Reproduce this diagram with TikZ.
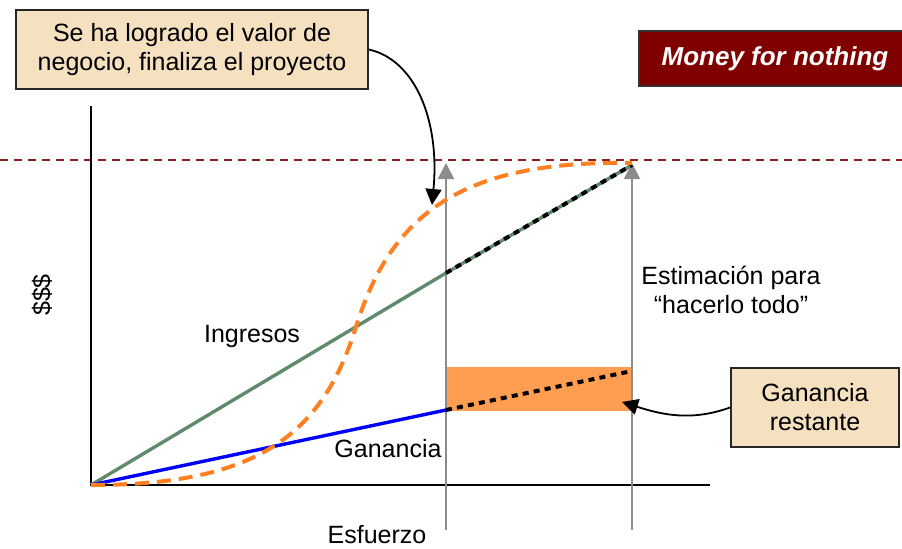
\documentclass[tikz,border=0pt]{standalone}
\usepackage{fontspec}
\setmainfont{Liberation Sans}
\usetikzlibrary{positioning,arrows.meta}

\definecolor{boxfill}{RGB}{245,225,192}
\definecolor{moneyred}{RGB}{128,0,0}
\definecolor{limitred}{RGB}{140,30,30}
\definecolor{ingresosgreen}{RGB}{95,138,108}
\definecolor{curveorange}{RGB}{255,128,32}
\definecolor{restfill}{RGB}{255,158,80}
\definecolor{markgray}{RGB}{140,140,140}

\tikzset{
  note/.style={draw=black!85, line width=1pt, fill=boxfill, align=center, inner sep=0pt},
  label/.style={inner sep=0pt, align=center},
  marker/.style={draw=markgray, line width=1pt, -{Triangle[length=8pt,width=8pt]}},
  pointer/.style={draw=black, line width=0.9pt, -{Triangle[length=8pt,width=8pt]}},
  rest/.style={black, line width=2pt, dash pattern=on 3pt off 2.6pt}
}

\begin{document}
\begin{tikzpicture}[x=0.5pt, y=-0.5pt, font=\fontsize{12.5}{14.5}\selectfont]
\useasboundingbox (0,0) rectangle (902,548);
% Lines
\draw[limitred, line width=0.8pt, dash pattern=on 4pt off 3pt] (0,160) -- (902,160);
\coordinate (o) at (91,485);
\coordinate (ytop) at (91,106);
\coordinate (xend) at (710,485);
\draw[line width=1pt] (ytop) -- (o) -- (xend);
% Remaining profit
\fill[restfill] (446,367) rectangle (632,411);
% Markers
\coordinate (m1b) at (446,530);
\coordinate (m1t) at (446,163);
\coordinate (m2b) at (632,530);
\coordinate (m2t) at (632,163);
\draw[marker] (m1b) -- (m1t);
\draw[marker] (m2b) -- (m2t);
% Curves
\coordinate (ing1) at (446,273);
\coordinate (ing2) at (632,165);
\coordinate (gan1) at (446,410);
\coordinate (gan2) at (632,371);
\draw[ingresosgreen, line width=1.7pt] (o) -- (ing1) -- (ing2);
\draw[rest] (ing1) -- (ing2);
\draw[blue, line width=1.7pt] (o) -- (gan1);
\draw[rest] (gan1) -- (gan2);
\draw[curveorange, line width=2pt, dash pattern=on 7pt off 4pt]
  (o) .. controls (250,485) and (320,440) .. (355,330)
      .. controls (390,215) and (460,160) .. (m2t);
% Nodes
\node[note, minimum width=176pt, minimum height=39.5pt] (hecho) at (192,49.5)
  {Se ha logrado el valor de\\negocio, finaliza el proyecto};
\node[draw=black!80, line width=1pt, fill=moneyred, text=white, inner sep=0pt,
  minimum width=132pt, minimum height=27.5pt, font=\fontsize{13}{15}\selectfont\bfseries\itshape]
  (money) at (771,58.5) {\hspace{4pt}Money for nothing};
\node[note, minimum width=84pt, minimum height=39.5pt] (restante) at (815,407.5)
  {Ganancia\\restante};
\node[label] (ingresos) at (252,336) {Ingresos};
\node[label] (ganancia) at (388,449) {Ganancia};
\node[label] (esfuerzo) at (377,535) {Esfuerzo};
\node[label, rotate=90] (dinero) at (42,295) {\$\$\$};
\node[label] (estimacion) at (731,290) {Estimación para\\“hacerlo todo”};
% Pointers
\coordinate (p1) at (432,205);
\coordinate (p2) at (622,402);
\draw[pointer] (hecho.east) .. controls (415,60) and (440,120) .. (p1);
\draw[pointer] (restante.west) .. controls (690,422) and (660,414) .. (p2);
\end{tikzpicture}
\end{document}
